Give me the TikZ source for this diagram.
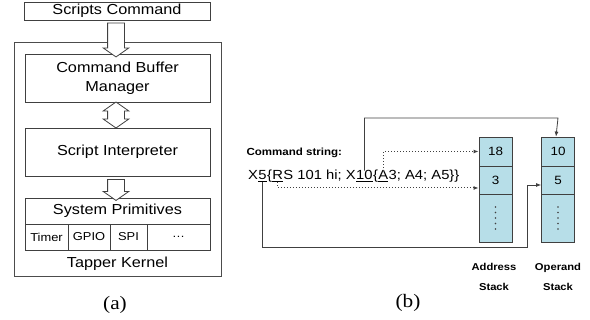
\documentclass[tikz,border=0pt]{standalone}
\usepackage{fontspec}
\setmainfont[FakeStretch=1.12]{Liberation Sans}
\newfontfamily\capfont[FakeStretch=1.12]{Liberation Serif}
\usetikzlibrary{shapes.arrows,arrows.meta}
\definecolor{stackblue}{RGB}{183,222,232}
\definecolor{linegray}{RGB}{64,64,64}

\begin{document}
\begin{tikzpicture}[x=1pt,y=-1pt,
	box/.style={draw=linegray,line width=0.8pt,inner sep=0pt,minimum width=185pt,align=center,font=\fontsize{14.5}{19}\selectfont},
	cell/.style={draw=linegray,line width=0.8pt,inner sep=0pt,minimum height=26pt,font=\fontsize{11.5}{13}\selectfont},
	hollow/.style={draw=linegray,line width=0.8pt,fill=white,inner xsep=0pt,inner ysep=8pt,rotate=-90},
	stack/.style={draw=linegray,line width=0.8pt,fill=stackblue,inner sep=0pt,minimum width=33pt,font=\fontsize{12}{14}\selectfont},
	cmd/.style={inner sep=0pt,anchor=base west,font=\fontsize{13.2}{15}\selectfont},
	tag/.style={align=center,font=\bfseries\fontsize{10}{20}\selectfont},
	conn/.style={draw=linegray,line width=0.8pt,-{Latex[length=5pt,width=4pt]}},
	dconn/.style={draw=linegray,line width=1pt,dotted,-{Latex[length=5pt,width=4pt]}}]
	\useasboundingbox (0,0) rectangle (590,320);
	% (a)
	\node[box,minimum width=186pt,minimum height=18pt] (sc) at (117,11) {Scripts Command};
	\node[draw=black!70,line width=1pt,minimum width=207pt,minimum height=234pt] (kernel) at (117.5,160) {};
	\node[box,minimum height=48pt] (cbm) at (117.5,78) {Command Buffer\\Manager};
	\node[box,minimum height=48pt] (si) at (117.5,152) {Script Interpreter};
	\node[box,minimum height=26pt] (sp) at (117.5,211) {System Primitives};
	\node[cell,minimum width=43pt] (timer) at (46.5,237) {Timer};
	\node[cell,minimum width=42pt] (gpio) at (89,237) {GPIO};
	\node[cell,minimum width=37pt] (spi) at (128.5,237) {SPI};
	\node[cell,minimum width=63pt] (more) at (178.5,237) {\dots};
	\node[font=\fontsize{14.5}{17}\selectfont] (tk) at (117.5,264) {Tapper Kernel};
	\node[hollow,single arrow,single arrow head extend=4.5pt,single arrow tip angle=110,minimum height=34pt] (a1) at (116,37) {};
	\node[hollow,double arrow,double arrow head extend=4.5pt,double arrow tip angle=110,minimum height=26pt] (a2) at (116,115) {};
	\node[hollow,single arrow,single arrow head extend=4.5pt,single arrow tip angle=110,minimum height=21pt] (a3) at (116,187) {};
	\node[font=\capfont\fontsize{19}{22}\selectfont] (capa) at (115,305) {(a)};
	% (b)
	\node[anchor=west,font=\bfseries\fontsize{10.3}{12}\selectfont] (cmdlabel) at (243,153) {Command string:};
	\coordinate (start) at (248,180);
	\node[cmd] (x5) at (start) {X};
	\node[cmd] (n5) at (x5.base east) {\underline{5}};
	\node[cmd] (b1) at (n5.base east) {\{};
	\node[cmd] (nR) at (b1.base east) {\underline{R}};
	\node[cmd] (mid) at (nR.base east) {S 101 hi; X};
	\node[cmd] (n10) at (mid.base east) {\underline{10}};
	\node[cmd] (b2) at (n10.base east) {\{};
	\node[cmd] (nA) at (b2.base east) {\underline{A}};
	\node[cmd] (rest) at (nA.base east) {3; A4; A5\}\}};
	\node[stack,minimum height=29pt] (as1) at (495.5,151.5) {18};
	\node[stack,minimum height=28pt] (as2) at (495.5,180) {3};
	\node[stack,minimum height=48pt] (as3) at (495.5,218) {};
	\node[stack,minimum height=29pt] (os1) at (558,151.5) {10};
	\node[stack,minimum height=28pt] (os2) at (558,180) {5};
	\node[stack,minimum height=48pt] (os3) at (558,218) {};
	\foreach \k in {-2,...,2} {
		\fill[linegray] ([yshift=\k*5.5pt]as3.center) circle (0.9pt);
		\fill[linegray] ([yshift=\k*5.5pt]os3.center) circle (0.9pt);
	}
	\node[tag] (astack) at (494,277) {Address\\Stack};
	\node[tag] (ostack) at (558,277) {Operand\\Stack};
	\coordinate (top) at (0,118);
	\coordinate (bot) at (527,247);
	\draw[conn] (n10.north) |- (os1.north |- top) -- ([xshift=-2pt]os1.north);
	\draw[dconn] (nA.north) |- (as1.west);
	\draw[dconn] (nR.south) |- ([yshift=-8pt]as2.west);
	\draw[conn] (n5.south) |- (bot) |- ([yshift=-5pt]os2.west);
	\node[font=\capfont\fontsize{19}{22}\selectfont] (capb) at (408,303) {(b)};
\end{tikzpicture}
\end{document}
